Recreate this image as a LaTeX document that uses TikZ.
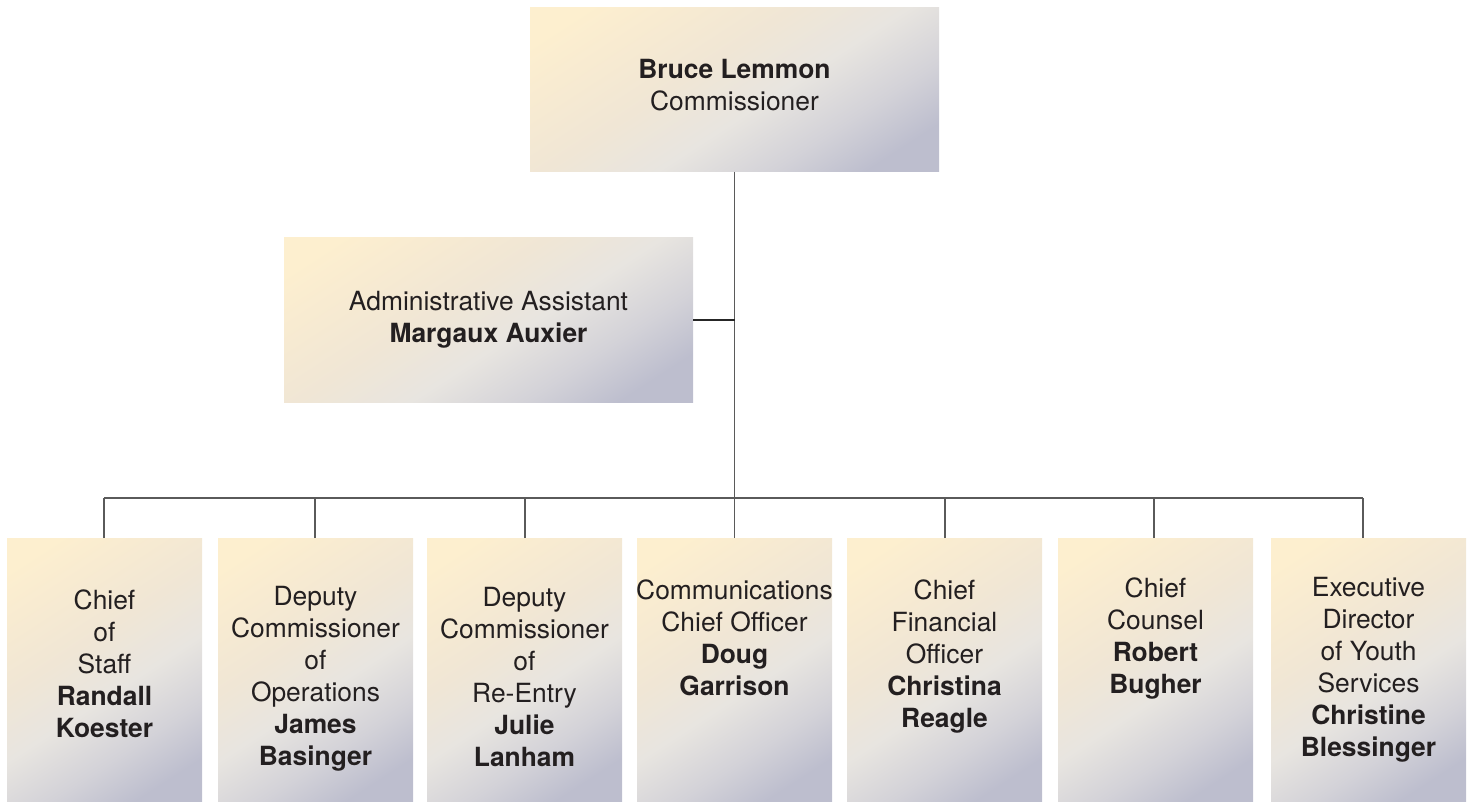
\documentclass[tikz,border=0pt]{standalone}
\usepackage{fontspec}
\setmainfont{TeX Gyre Heros}
\definecolor{sA}{HTML}{BDBECE}
\definecolor{sB}{HTML}{D3D2D8}
\definecolor{sC}{HTML}{E8E5E0}
\definecolor{sD}{HTML}{F0E6D5}
\definecolor{sE}{HTML}{F8EBD1}
\definecolor{sF}{HTML}{FDEFCF}
\pgfdeclareverticalshading{orgshade}{100bp}{color(0bp)=(sA); color(23bp)=(sA); color(33bp)=(sB); color(45bp)=(sC); color(57bp)=(sD); color(70bp)=(sE); color(79bp)=(sF); color(100bp)=(sF)}
\begin{document}
\begin{tikzpicture}[x=1pt,y=-1pt,
  box/.style={shade, shading=orgshade, shading angle=33, inner sep=0pt, outer sep=0pt},
  widebox/.style={box, minimum width=409pt, minimum height=164pt},
  tallbox/.style={box, minimum width=195pt, minimum height=264pt},
  txt/.style={align=center, inner sep=0pt, anchor=north, text=txtcol, font=\fontsize{26.4}{32}\selectfont},
  conn/.style={draw=linecol, line width=1.3pt},
  connd/.style={draw=black!85, line width=1.3pt}]
\definecolor{txtcol}{HTML}{231F20}
\definecolor{linecol}{HTML}{5A5A5A}
\useasboundingbox (0,0) rectangle (1470,802);

% boxes
\node[widebox] (top) at (734.5,90) {};
\node[widebox] (admin) at (488.5,320) {};
\node[tallbox] (b1) at (104.5,670) {};
\node[tallbox] (b2) at (315.5,670) {};
\node[tallbox] (b3) at (524.5,670) {};
\node[tallbox] (b4) at (734.5,670) {};
\node[tallbox] (b5) at (944.5,670) {};
\node[tallbox] (b6) at (1155.5,670) {};
\node[tallbox] (b7) at (1368.5,670) {};

% texts
\node[txt] (ttop) at (734.5,59.5) {\textbf{Bruce Lemmon}\\Commissioner};
\node[txt] (tadmin) at (488.5,291.5) {Administrative Assistant\\\textbf{Margaux Auxier}};
\node[txt] (t1) at (104.5,589.5) {Chief\\of\\Staff\\\textbf{Randall}\\\textbf{Koester}};
\node[txt] (t2) at (315.5,586.5) {Deputy\\Commissioner\\of\\Operations\\\textbf{James}\\\textbf{Basinger}};
\node[txt] (t3) at (524.5,587.5) {Deputy\\Commissioner\\of\\Re-Entry\\\textbf{Julie}\\\textbf{Lanham}};
\node[txt] (t4) at (734.5,579.5) {Communications\\Chief Officer\\\textbf{Doug}\\\textbf{Garrison}};
\node[txt] (t5) at (944.5,579.5) {Chief\\Financial\\Officer\\\textbf{Christina}\\\textbf{Reagle}};
\node[txt] (t6) at (1155.5,577.5) {Chief\\Counsel\\\textbf{Robert}\\\textbf{Bugher}};
\node[txt] (t7) at (1368.5,577.5) {Executive\\Director\\of Youth\\Services\\\textbf{Christine}\\\textbf{Blessinger}};

% connectors
\coordinate (bus) at (734,498);
\draw[conn] (top.south) -- (top.south |- bus);
\draw[connd] (admin.east) -- (admin.east -| top.south);
\draw[conn] ([xshift=-0.5pt]b1.north |- bus) -- ([xshift=-5.5pt]b7.north |- bus);
\draw[conn] ([xshift=-0.5pt]b1.north) -- ([xshift=-0.5pt]b1.north |- bus);
\draw[conn] ([xshift=-0.5pt]b2.north) -- ([xshift=-0.5pt]b2.north |- bus);
\draw[conn] ([xshift=0.5pt]b3.north) -- ([xshift=0.5pt]b3.north |- bus);
\draw[conn] (b4.north) -- (b4.north |- bus);
\draw[conn] ([xshift=0.5pt]b5.north) -- ([xshift=0.5pt]b5.north |- bus);
\draw[conn] ([xshift=-1.5pt]b6.north) -- ([xshift=-1.5pt]b6.north |- bus);
\draw[conn] ([xshift=-5.5pt]b7.north) -- ([xshift=-5.5pt]b7.north |- bus);
\end{tikzpicture}
\end{document}
